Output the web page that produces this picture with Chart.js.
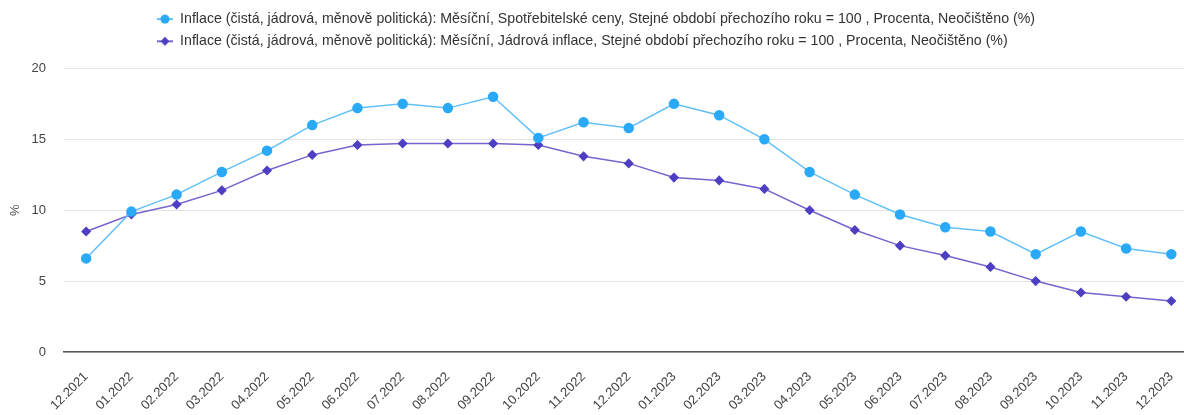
<!DOCTYPE html>
<html lang="cs">
<head>
  <meta charset="UTF-8">
  <title>Inflace</title>
  <script src="https://cdn.jsdelivr.net/npm/chart.js"></script>
  <style>
    html, body { margin: 0; padding: 0; background: #fff; }
    #wrap { width: 1184px; height: 415px; position: relative; }
  </style>
</head>
<body>
  <div id="wrap"><canvas id="chartCanvas"></canvas></div>

  <script>
    const months = ["12.2021", "01.2022", "02.2022", "03.2022", "04.2022", "05.2022", "06.2022",
      "07.2022", "08.2022", "09.2022", "10.2022", "11.2022", "12.2022", "01.2023", "02.2023",
      "03.2023", "04.2023", "05.2023", "06.2023", "07.2023", "08.2023", "09.2023", "10.2023",
      "11.2023", "12.2023"];

    const cpi = [6.6, 9.9, 11.1, 12.7, 14.2, 16.0, 17.2, 17.5, 17.2, 18.0, 15.1, 16.2, 15.8,
      17.5, 16.7, 15.0, 12.7, 11.1, 9.7, 8.8, 8.5, 6.9, 8.5, 7.3, 6.9];

    const core = [8.5, 9.7, 10.4, 11.4, 12.8, 13.9, 14.6, 14.7, 14.7, 14.7, 14.6, 13.8, 13.3,
      12.3, 12.1, 11.5, 10.0, 8.6, 7.5, 6.8, 6.0, 5.0, 4.2, 3.9, 3.6];

    const cpiLabel = "Inflace (čistá, jádrová, měnově politická): Měsíční, Spotřebitelské ceny, Stejné období přechozího roku = 100 , Procenta, Neočištěno (%)";
    const coreLabel = "Inflace (čistá, jádrová, měnově politická): Měsíční, Jádrová inflace, Stejné období přechozího roku = 100 , Procenta, Neočištěno (%)";

    const yTicks = [0, 5, 10, 15, 20];

    // legend marker: short line with the point symbol on it
    function legendIcon(lineColor, pointColor, style) {
      const c = document.createElement('canvas');
      c.width = 16; c.height = 12;
      const g = c.getContext('2d');
      g.strokeStyle = lineColor;
      g.lineWidth = 2;
      g.beginPath(); g.moveTo(0, 6); g.lineTo(16, 6); g.stroke();
      g.fillStyle = pointColor;
      g.beginPath();
      if (style === 'circle') {
        g.arc(8, 6, 4.5, 0, Math.PI * 2);
      } else {
        g.moveTo(8, 1.5); g.lineTo(12.5, 6); g.lineTo(8, 10.5); g.lineTo(3.5, 6); g.closePath();
      }
      g.fill();
      return c;
    }

    const ds = [
      { label: cpiLabel, data: cpi.map((v, i) => ({ x: i, y: v })),
        borderColor: '#62c0f8', backgroundColor: '#2aa9f7', pointBorderColor: '#2aa9f7',
        pointStyle: 'circle', pointRadius: 4.5, borderWidth: 1.5, icon: legendIcon('#62c0f8', '#2aa9f7', 'circle') },
      { label: coreLabel, data: core.map((v, i) => ({ x: i, y: v })),
        borderColor: '#7565cf', backgroundColor: '#4e3fc2', pointBorderColor: '#4e3fc2',
        pointStyle: 'rectRot', pointRadius: 4, borderWidth: 1.5, icon: legendIcon('#7565cf', '#4e3fc2', 'diamond') }
    ];

    const font = 'Liberation Sans, Arial, sans-serif';

    // legend rows share one left edge, plus some room under the legend
    const legendTweak = {
      id: 'legendTweak',
      beforeInit(chart) {
        const fit = chart.legend.fit;
        chart.legend.fit = function () {
          fit.bind(chart.legend)();
          if (this.lineWidths && this.lineWidths.length) {
            const w = Math.max(...this.lineWidths);
            this.lineWidths = this.lineWidths.map(() => w);
          }
          this.height += 10;
        };
      }
    };

    const ctx = document.getElementById('chartCanvas').getContext('2d');
    new Chart(ctx, {
      type: 'line',
      data: { datasets: ds },
      plugins: [legendTweak],
      options: {
        responsive: true,
        maintainAspectRatio: false,
        animation: false,
        layout: { autoPadding: false, padding: { left: 8, right: 0, top: 4, bottom: 0 } },
        plugins: {
          tooltip: { enabled: false },
          legend: {
            position: 'top',
            labels: {
              usePointStyle: true,
              pointStyleWidth: 16,
              padding: 8,
              color: '#333',
              font: { family: font, size: 14.2 },
              generateLabels(chart) {
                return chart.data.datasets.map((d, i) => ({
                  text: d.label, pointStyle: d.icon, fillStyle: d.backgroundColor,
                  strokeStyle: d.borderColor, lineWidth: 0, hidden: false, datasetIndex: i,
                  fontColor: '#333'
                }));
              }
            }
          }
        },
        scales: {
          x: {
            type: 'linear',
            min: -0.49,
            max: 24.28,
            grid: { display: false, drawTicks: false },
            border: { display: true, color: '#555', width: 1.5 },
            afterBuildTicks(axis) {
              axis.ticks = months.map((m, i) => ({ value: i }));
            },
            afterFit(axis) {
              axis.paddingLeft = 0;
              axis.paddingRight = 0;
              axis.height = 63;
            },
            ticks: {
              autoSkip: false,
              maxRotation: 45,
              minRotation: 45,
              padding: 17,
              color: '#444',
              font: { family: font, size: 13 },
              callback: (v) => months[v]
            }
          },
          y: {
            min: 0,
            max: 20,
            afterBuildTicks(axis) {
              axis.ticks = yTicks.map(v => ({ value: v }));
            },
            afterFit(axis) {
              axis.width = 56;
            },
            grid: { color: '#e3e3e3', drawTicks: false, lineWidth: 1 },
            border: { display: false },
            ticks: {
              padding: 18,
              color: '#444',
              font: { family: font, size: 13 }
            },
            title: {
              display: true,
              text: '%',
              color: '#555',
              padding: { top: 0, bottom: 7 },
              font: { family: font, size: 13 }
            }
          }
        }
      }
    });
  </script>
</body>
</html>
